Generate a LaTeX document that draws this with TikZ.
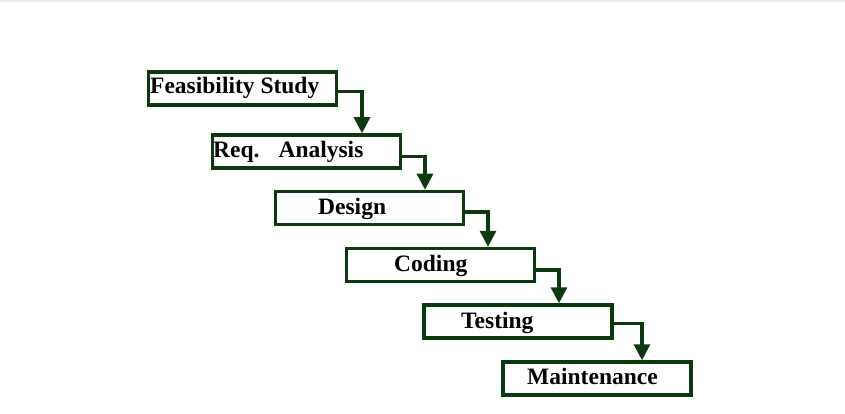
\documentclass[tikz,border=0pt]{standalone}
\usepackage{fontspec}
\setmainfont{Liberation Serif}
\usetikzlibrary{arrows.meta}
\definecolor{boxgreen}{HTML}{0C3A0E}
\tikzset{
  stagebox/.style={draw=boxgreen, line width=3.5pt, fill=white, minimum width=188pt, minimum height=33pt, inner sep=0pt},
  lbl/.style={anchor=base west, inner sep=0pt, font=\fontsize{23.5}{24}\selectfont\bfseries, text=black},
  arr/.style={draw=boxgreen, line width=3.2pt, -{Triangle[length=16pt,width=16pt]}}
}
\begin{document}
\begin{tikzpicture}[x=1pt,y=-1pt]
\useasboundingbox (0,0) rectangle (845,414);
\fill[white] (0,0) rectangle (845,414);
\draw[black!8, line width=1.5pt] (0,1) -- (845,1);
\node[stagebox] (b1) at (242.5,88.5) {};
\node[stagebox] (b2) at (306.5,151.5) {};
\node[stagebox] (b3) at (369.5,208) {};
\node[stagebox] (b4) at (440.5,265) {};
\node[stagebox] (b5) at (518,321.5) {};
\node[stagebox] (b6) at (597,378.5) {};
\node[lbl] (t1) at (150,94) {Feasibility Study};
\node[lbl] (t2) at (213,158) {Req.\hspace{19pt}Analysis};
\node[lbl] (t3) at (318,214) {Design};
\node[lbl] (t4) at (394,271) {Coding};
\node[lbl] (t5) at (461,328) {Testing};
\node[lbl] (t6) at (527,384) {Maintenance};
\draw[arr] ([yshift=-3pt]b1.east) -| ([xshift=55.5pt]b2.north);
\draw[arr] ([yshift=-5pt]b2.east) -| ([xshift=55.5pt]b3.north);
\draw[arr] ([yshift=-4pt]b3.east) -| ([xshift=47.5pt]b4.north);
\draw[arr] ([yshift=-5pt]b4.east) -| ([xshift=41pt]b5.north);
\draw[arr] ([yshift=-2pt]b5.east) -| ([xshift=45pt]b6.north);
\end{tikzpicture}
\end{document}
